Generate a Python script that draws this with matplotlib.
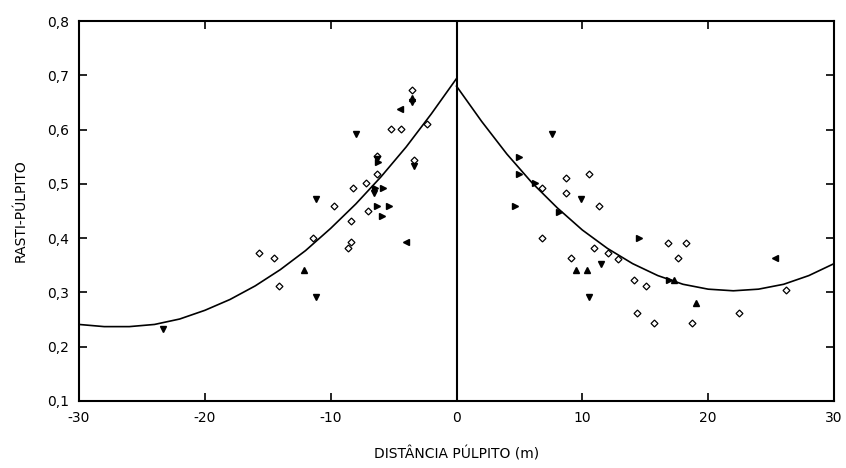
import numpy as np
import matplotlib
matplotlib.use("Agg")
import matplotlib.pyplot as plt

# curvas ajustadas
curva_esq_x = [-30, -28, -26, -24, -22, -20, -18, -16, -14, -12, -10, -8, -6, -4, -2, 0]
curva_esq_y = [0.241, 0.237, 0.237, 0.241, 0.251, 0.267, 0.287, 0.312, 0.342, 0.377,
               0.418, 0.463, 0.513, 0.568, 0.629, 0.694]
curva_dir_x = [0, 2, 4, 6, 8, 10, 12, 14, 16, 18, 20, 22, 24, 26, 28, 30]
curva_dir_y = [0.680, 0.615, 0.555, 0.502, 0.456, 0.415, 0.381, 0.353, 0.331, 0.315,
               0.306, 0.303, 0.306, 0.315, 0.331, 0.353]

# pontos medidos - losangos
los_x = [-3.56, -5.2, -4.41, -2.37, -6.34, -3.38, -6.34, -7.2, -8.2, -7.01, -9.75,
         -8.39, -8.39, -8.6, -11.38, -15.7, -14.5, -14.12,
         6.77, 8.70, 10.51, 8.70, 11.30, 6.77, 16.84, 18.24, 17.63, 10.91, 12.07,
         12.86, 9.10, 14.09, 15.06, 26.19, 14.32, 15.7, 18.7, 22.46]
los_y = [0.672, 0.601, 0.601, 0.611, 0.552, 0.544, 0.519, 0.501, 0.492, 0.450, 0.460,
         0.432, 0.392, 0.381, 0.401, 0.372, 0.363, 0.312,
         0.492, 0.510, 0.519, 0.483, 0.460, 0.400, 0.391, 0.391, 0.363, 0.381, 0.372,
         0.362, 0.363, 0.322, 0.312, 0.305, 0.262, 0.243, 0.243, 0.262]

# triângulos
tri_baixo_x = [-3.56, -7.99, -6.34, -3.38, -6.53, -11.17, -11.17, -23.3,
               7.57, 9.90, 11.49, 10.51]
tri_baixo_y = [0.650, 0.592, 0.545, 0.533, 0.483, 0.472, 0.292, 0.232,
               0.592, 0.472, 0.352, 0.292]
tri_cima_x = [-3.56, -12.12, 9.50, 10.37, 17.31, 19.04]
tri_cima_y = [0.658, 0.341, 0.341, 0.341, 0.322, 0.281]
tri_esq_x = [-4.49, -4.01, 25.32]
tri_esq_y = [0.638, 0.392, 0.363]
tri_dir_x = [-6.2, -6.48, -5.87, -6.34, -5.34, -5.92,
             4.99, 4.99, 6.24, 4.65, 8.17, 14.53, 16.92]
tri_dir_y = [0.540, 0.492, 0.492, 0.460, 0.460, 0.441,
             0.550, 0.519, 0.501, 0.460, 0.449, 0.400, 0.322]

x_ticks = [-30, -20, -10, 0, 10, 20, 30]
y_ticks = [0.1, 0.2, 0.3, 0.4, 0.5, 0.6, 0.7, 0.8]
y_labels = ["0,1", "0,2", "0,3", "0,4", "0,5", "0,6", "0,7", "0,8"]

plt.rcParams['font.family'] = ['DejaVu Sans']
fig = plt.figure(figsize=(8.46, 4.68), dpi=100)
ax = fig.add_axes([0.0934, 0.1432, 0.8924, 0.8119])

ax.plot(curva_esq_x, curva_esq_y, color='black', lw=1.2)
ax.plot(curva_dir_x, curva_dir_y, color='black', lw=1.2)
ax.axvline(0, color='black', lw=1.5)

ax.plot(los_x, los_y, linestyle='none', marker='D', markersize=3.5,
        markerfacecolor='white', markeredgecolor='black', markeredgewidth=0.9)
ms = 4.5
ax.plot(tri_baixo_x, tri_baixo_y, linestyle='none', marker='v', markersize=ms, color='black')
ax.plot(tri_cima_x, tri_cima_y, linestyle='none', marker='^', markersize=ms, color='black')
ax.plot(tri_esq_x, tri_esq_y, linestyle='none', marker='<', markersize=ms, color='black')
ax.plot(tri_dir_x, tri_dir_y, linestyle='none', marker='>', markersize=ms, color='black')

ax.set_xlim(-30, 30)
ax.set_ylim(0.1, 0.8)
ax.set_xticks(x_ticks)
ax.set_xticklabels([str(v) for v in x_ticks])
ax.set_yticks(y_ticks)
ax.set_yticklabels(y_labels)
ax.tick_params(direction='in', length=6, width=1.2, top=True, right=True,
               labelsize=10, pad=7)
for s in ax.spines.values():
    s.set_linewidth(1.5)

ax.set_xlabel("DISTÂNCIA PÚLPITO (m)", fontsize=10, labelpad=16)
ax.set_ylabel("RASTI-PÚLPITO", fontsize=10, labelpad=14)

fig.savefig("out.png", dpi=100)
